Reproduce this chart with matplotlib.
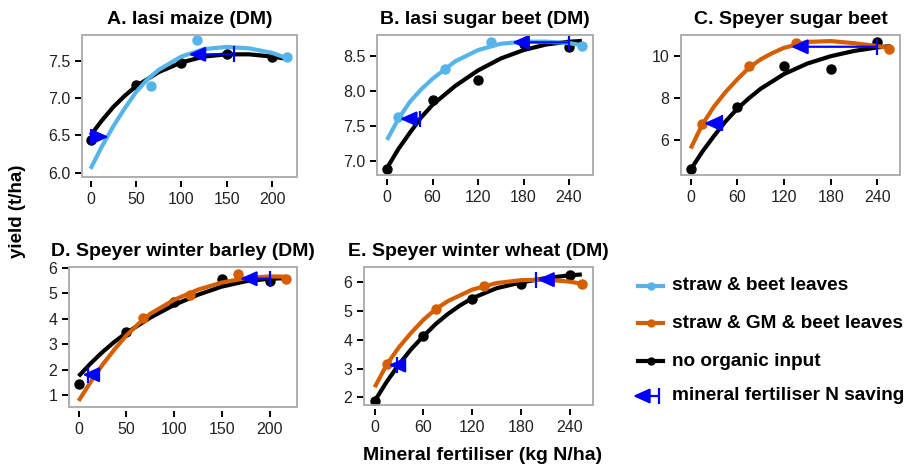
import matplotlib
matplotlib.use("Agg")
import matplotlib.pyplot as plt
from matplotlib.patches import Rectangle

plt.rcParams['font.family'] = ['Liberation Sans', 'DejaVu Sans']

BLUE_LT = '#56B4E9'
ORANGE = '#D55E00'
ARROW = '#0000FF'

# ---- data ----
titles = ['A. Iasi maize (DM)', 'B. Iasi sugar beet (DM)', 'C. Speyer sugar beet',
          'D. Speyer winter barley (DM)', 'E. Speyer winter wheat (DM)']

# no organic input: observed points
black_x = [[0, 50, 100, 150, 200], [0, 60, 120, 180, 240], [0, 60, 120, 180, 240],
           [0, 50, 100, 150, 200], [0, 60, 120, 180, 240]]
black_y = [[6.44, 7.18, 7.47, 7.59, 7.55], [6.89, 7.87, 8.16, 8.67, 8.63],
           [4.61, 7.60, 9.55, 9.41, 10.70], [1.46, 3.49, 4.66, 5.58, 5.49],
           [1.86, 4.13, 5.44, 5.94, 6.27]]
# no organic input: fitted curve (read at intervals)
black_cx = [[0, 12.5, 25, 37.5, 50, 75, 100, 125, 150, 175, 200, 216],
            [0, 15, 30, 45, 60, 90, 120, 150, 180, 210, 240, 257],
            [0, 15, 30, 45, 60, 75, 90, 120, 150, 180, 210, 240, 257],
            [0, 12.5, 25, 37.5, 50, 75, 100, 125, 150, 175, 200, 217],
            [0, 15, 30, 45, 60, 75, 90, 105, 120, 150, 180, 210, 240, 255]]
black_cy = [[6.50, 6.70, 6.88, 7.03, 7.16, 7.35, 7.48, 7.56, 7.59, 7.59, 7.56, 7.53],
            [6.90, 7.17, 7.40, 7.62, 7.80, 8.07, 8.29, 8.46, 8.58, 8.66, 8.70, 8.71],
            [4.60, 5.45, 6.20, 6.90, 7.50, 8.00, 8.45, 9.15, 9.65, 10.00, 10.25, 10.42, 10.48],
            [1.75, 2.25, 2.70, 3.10, 3.45, 4.05, 4.55, 4.95, 5.27, 5.48, 5.58, 5.60],
            [1.87, 2.55, 3.15, 3.68, 4.13, 4.55, 4.90, 5.20, 5.45, 5.80, 6.00, 6.15, 6.25, 6.28]]

# organic input series (A, B: straw & beet leaves; C, D, E: straw & GM & beet leaves)
org_color = [BLUE_LT, BLUE_LT, ORANGE, ORANGE, ORANGE]
org_x = [[67, 117, 217], [15, 77, 137, 257], [15, 75, 135, 255],
         [67, 117, 167, 217], [15, 75, 135, 255]]
org_y = [[7.17, 7.78, 7.55], [7.63, 8.31, 8.70, 8.64], [6.77, 9.55, 10.64, 10.32],
         [4.05, 4.95, 5.78, 5.58], [3.15, 5.07, 5.88, 5.94]]
org_cx = [[0, 12.5, 25, 37.5, 50, 62.5, 75, 100, 125, 150, 175, 200, 216],
          [0, 15, 30, 45, 60, 90, 120, 150, 180, 210, 240, 257],
          [0, 15, 30, 45, 60, 75, 90, 105, 120, 150, 180, 210, 240, 257],
          [0, 12.5, 25, 37.5, 50, 62.5, 75, 100, 125, 150, 175, 200, 217],
          [0, 15, 30, 45, 60, 75, 90, 120, 150, 180, 210, 240, 256]]
org_cy = [[6.05, 6.35, 6.62, 6.86, 7.08, 7.25, 7.38, 7.56, 7.66, 7.69, 7.67, 7.61, 7.54],
          [7.30, 7.60, 7.84, 8.02, 8.17, 8.42, 8.58, 8.67, 8.70, 8.70, 8.68, 8.65],
          [5.60, 6.75, 7.60, 8.30, 8.90, 9.45, 9.85, 10.15, 10.40, 10.68, 10.72, 10.62, 10.48, 10.38],
          [0.78, 1.52, 2.20, 2.80, 3.35, 3.80, 4.20, 4.75, 5.15, 5.43, 5.60, 5.67, 5.66],
          [2.35, 3.15, 3.75, 4.25, 4.70, 5.07, 5.35, 5.75, 5.98, 6.08, 6.10, 6.03, 5.95]]

# mineral fertiliser N saving arrows: bar position, tail, tip, yield level
arrow_bar = [[1, 158], [43, 240], [40, 239], [10, 200], [27, 198]]
arrow_tail = [[1, 158], [43, 240], [40, 239], [10, 200], [27, 214]]
arrow_tip = [[20, 108], [17, 165], [17, 129], [4, 169], [17, 200]]
arrow_y = [[6.48, 7.59], [7.60, 8.69], [6.80, 10.45], [1.81, 5.58], [3.12, 6.10]]

xticks = [[0, 50, 100, 150, 200], [0, 60, 120, 180, 240], [0, 60, 120, 180, 240],
          [0, 50, 100, 150, 200], [0, 60, 120, 180, 240]]
yticks = [[6.0, 6.5, 7.0, 7.5], [7.0, 7.5, 8.0, 8.5], [6, 8, 10],
          [1, 2, 3, 4, 5, 6], [2, 3, 4, 5, 6]]
ytick_labels = [['6.0', '6.5', '7.0', '7.5'], ['7.0', '7.5', '8.0', '8.5'], ['6', '8', '10'],
                ['1', '2', '3', '4', '5', '6'], ['2', '3', '4', '5', '6']]
xlims = [(-9.4, 227.5), (-13.2, 271.6), (-12.4, 269), (-10.1, 228.7), (-13.2, 268.8)]
ylims = [(5.94, 7.85), (6.80, 8.795), (4.34, 11.01), (0.54, 6.04), (1.73, 6.54)]

legend_labels = ['straw & beet leaves', 'straw & GM & beet leaves', 'no organic input',
                 'mineral fertiliser N saving']
legend_colors = [BLUE_LT, ORANGE, 'black']

# axes boxes in pixels (left, top, right, bottom) on a 913x466 canvas
W, H = 913, 466
boxes = [(82, 35, 297, 177), (377, 35, 593, 175), (681, 35, 900, 175),
         (69, 267, 297, 407), (364, 267, 593, 405)]

fig = plt.figure(figsize=(9.13, 4.66), dpi=100)


def draw_arrow(ax, bar, tail, tip, y):
    ax.annotate('', xy=(tip, y), xytext=(tail, y),
                arrowprops=dict(arrowstyle='-|>,head_length=1.0,head_width=0.45',
                                color=ARROW, lw=1.6, shrinkA=0, shrinkB=0),
                zorder=6)
    ax.plot([bar], [y], marker='|', color=ARROW, markersize=11, mew=1.6, zorder=6)


for i in range(5):
    l, t, r, b = boxes[i]
    ax = fig.add_axes([l / W, 1 - b / H, (r - l) / W, (b - t) / H])
    ax.plot(black_cx[i], black_cy[i], color='black', lw=3, solid_joinstyle='round',
            solid_capstyle='butt', zorder=2)
    ax.plot(black_x[i], black_y[i], 'o', color='black', ms=6.5, zorder=2)
    ax.plot(org_cx[i], org_cy[i], color=org_color[i], lw=3, solid_joinstyle='round',
            solid_capstyle='butt', zorder=3)
    ax.plot(org_x[i], org_y[i], 'o', color=org_color[i], ms=6.5, zorder=3)
    for k in range(len(arrow_bar[i])):
        draw_arrow(ax, arrow_bar[i][k], arrow_tail[i][k], arrow_tip[i][k], arrow_y[i][k])

    ax.set_xlim(xlims[i])
    ax.set_ylim(ylims[i])
    ax.set_xticks(xticks[i])
    ax.set_yticks(yticks[i])
    ax.set_yticklabels(ytick_labels[i])
    for s in ['top', 'right']:
        ax.spines[s].set_visible(False)
    ax.spines['left'].set_position(('outward', 1))
    ax.spines['bottom'].set_position(('outward', 3))
    ax.spines['left'].set_color('none')
    ax.spines['bottom'].set_color('none')
    ax.add_patch(Rectangle((0, 0), 1, 1, transform=ax.transAxes, fill=False,
                           edgecolor='#a8a8a8', lw=1.3, clip_on=False, zorder=10))
    ax.tick_params(direction='out', length=4.5, width=1.4, labelsize=11.5, pad=3,
                   color='black', labelcolor='#222222')
    fig.text((l + r) / 2 / W, 1 - (t - 15) / H, titles[i], ha='center', va='center',
             fontsize=14, fontweight='bold')

fig.text(18 / W, 1 - 211 / H, 'yield (t/ha)', rotation=90, ha='center', va='center',
         fontsize=13.5, fontweight='bold')
fig.text(483 / W, 1 - 456 / H, 'Mineral fertiliser (kg N/ha)', ha='center', va='center',
         fontsize=14, fontweight='bold')

# legend drawn in its own invisible axes (pixel coordinates)
lax = fig.add_axes([0, 0, 1, 1], zorder=-1)
lax.set_xlim(0, W)
lax.set_ylim(H, 0)
lax.axis('off')
leg_y = [286, 323, 361, 396]
for k in range(3):
    lax.plot([638, 663], [leg_y[k], leg_y[k]], color=legend_colors[k], lw=3)
    lax.plot([650.5], [leg_y[k]], 'o', color=legend_colors[k], ms=5)
lax.annotate('', xy=(633, leg_y[3]), xytext=(659, leg_y[3]),
             arrowprops=dict(arrowstyle='-|>,head_length=1.0,head_width=0.45',
                             color=ARROW, lw=1.6, shrinkA=0, shrinkB=0))
lax.plot([659], [leg_y[3]], marker='|', color=ARROW, markersize=11, mew=1.6)
for k in range(4):
    lax.text(672, leg_y[k], legend_labels[k], ha='left', va='center',
             fontsize=13.7, fontweight='bold')

fig.savefig('out.png', dpi=100)
